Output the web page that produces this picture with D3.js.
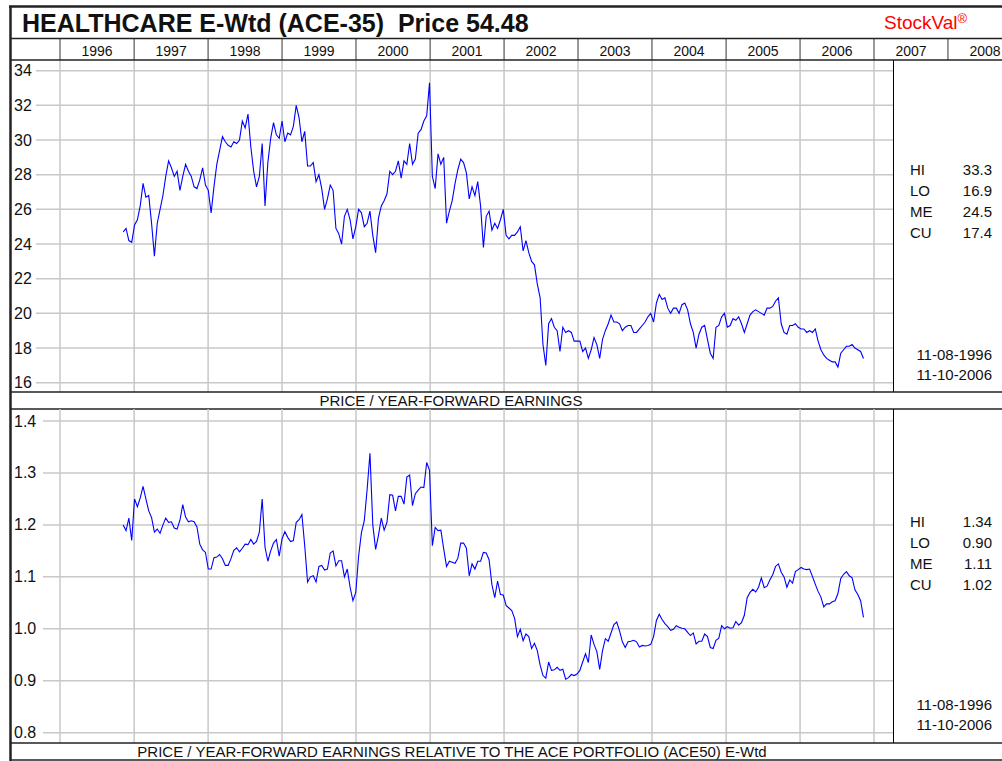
<!DOCTYPE html>
<html>
<head>
<meta charset="utf-8">
<script src="https://cdn.jsdelivr.net/npm/d3@7"></script>
<style>
body{margin:0;background:#fff;}
svg text{font-family:"Liberation Sans",Arial,sans-serif;fill:#111;}
</style>
</head>
<body>
<svg id="chart" width="1002" height="761"></svg>
<script>
// chart data (two-week samples)
var startDate = "1996-11-08";
var stepDays = 14;
var years = [1996,1997,1998,1999,2000,2001,2002,2003,2004,2005,2006,2007,2008];
var peTicks = [16,18,20,22,24,26,28,30,32,34];
var relTicks = [0.8,0.9,1.0,1.1,1.2,1.3,1.4];

var peValues = [
 24.7,24.9,24.2,24.1,25.1,25.4,26.2,27.5,26.7,26.8,
 25.2,23.3,25.2,26.0,26.8,27.9,28.8,28.4,27.9,28.2,
 27.1,27.9,28.6,28.2,27.9,27.3,27.2,27.7,28.4,27.4,
 27.1,25.8,27.3,28.6,29.4,30.2,29.9,29.7,29.6,29.9,
 29.8,30.0,31.1,30.7,31.5,29.6,28.2,27.3,27.9,29.8,
 26.2,28.7,30.1,31.0,30.3,30.1,31.1,29.9,30.4,30.3,
 30.8,32.0,31.3,29.9,30.5,28.5,28.5,28.7,27.6,28.0,
 27.2,26.0,26.6,27.4,27.1,24.9,24.6,24.0,25.6,26.0,
 25.4,24.3,25.0,26.0,25.8,25.0,25.2,25.9,24.5,23.5,
 25.5,26.2,26.5,26.9,28.2,28.0,28.2,28.8,27.8,28.8,
 28.6,29.8,28.6,28.9,30.4,30.6,31.1,31.4,33.3,27.9,
 27.2,29.2,28.6,29.0,25.2,25.9,26.5,27.5,28.3,28.9,
 28.7,28.1,26.6,27.3,26.8,27.6,26.2,23.8,25.6,25.9,
 24.8,25.2,24.9,25.4,26.0,24.5,24.3,24.5,24.5,24.7,
 25.0,23.6,24.2,23.5,23.0,22.8,21.7,20.9,18.2,17.0,
 19.4,19.7,19.2,19.0,17.8,19.2,18.9,19.0,18.9,18.4,
 18.4,18.4,17.8,18.0,17.4,17.9,18.6,18.2,17.4,18.5,
 19.0,19.4,19.9,19.5,19.5,19.4,19.0,19.2,19.3,19.3,
 18.9,18.9,19.1,19.3,19.5,19.8,20.0,19.5,20.6,21.1,
 20.8,20.9,20.3,20.0,20.3,20.3,20.0,20.5,20.6,20.2,
 19.4,18.9,18.0,18.8,19.2,19.3,18.5,17.7,17.4,19.2,
 19.3,19.8,20.0,19.2,19.3,19.7,19.6,19.8,19.4,18.9,
 19.4,19.9,20.1,20.2,20.1,20.0,19.9,20.3,20.3,20.4,
 20.7,20.9,19.4,18.9,18.8,19.3,19.3,19.4,19.2,19.1,
 19.1,18.9,19.0,18.9,19.1,18.4,17.9,17.6,17.4,17.3,
 17.2,17.2,16.9,17.7,17.9,18.1,18.1,18.2,18.0,17.9,
 17.8,17.4
];

var relValues = [
 1.200,1.189,1.213,1.170,1.250,1.235,1.252,1.274,1.250,1.227,
 1.214,1.186,1.192,1.184,1.200,1.213,1.205,1.206,1.194,1.192,
 1.209,1.239,1.215,1.206,1.208,1.206,1.196,1.163,1.152,1.147,
 1.115,1.115,1.137,1.138,1.143,1.135,1.122,1.122,1.135,1.151,
 1.156,1.148,1.155,1.163,1.162,1.172,1.163,1.168,1.186,1.250,
 1.157,1.130,1.150,1.165,1.172,1.140,1.173,1.187,1.176,1.168,
 1.170,1.205,1.210,1.220,1.160,1.090,1.100,1.102,1.090,1.120,
 1.122,1.113,1.115,1.146,1.150,1.121,1.131,1.131,1.100,1.115,
 1.080,1.054,1.070,1.140,1.185,1.208,1.268,1.338,1.200,1.153,
 1.180,1.213,1.190,1.205,1.258,1.257,1.227,1.255,1.255,1.240,
 1.292,1.296,1.237,1.260,1.267,1.273,1.272,1.320,1.305,1.160,
 1.195,1.189,1.190,1.154,1.120,1.130,1.128,1.126,1.136,1.165,
 1.165,1.155,1.102,1.125,1.115,1.130,1.130,1.147,1.146,1.133,
 1.085,1.060,1.092,1.066,1.065,1.045,1.040,1.035,1.020,0.985,
 0.999,0.977,0.990,0.985,0.962,0.972,0.958,0.930,0.910,0.905,
 0.936,0.920,0.921,0.926,0.920,0.922,0.903,0.906,0.912,0.910,
 0.913,0.920,0.936,0.952,0.935,0.988,0.970,0.956,0.922,0.958,
 0.981,0.976,0.992,1.008,1.013,0.996,0.975,0.964,0.975,0.976,
 0.978,0.975,0.965,0.968,0.967,0.968,0.970,0.985,1.016,1.028,
 1.018,1.010,1.004,0.997,0.999,1.006,1.003,1.001,1.000,0.993,
 0.987,0.992,0.971,0.976,0.976,0.990,0.985,0.964,0.962,0.978,
 0.982,1.006,1.000,1.004,1.001,1.002,1.014,1.007,1.012,1.026,
 1.060,1.070,1.076,1.071,1.080,1.098,1.079,1.082,1.094,1.104,
 1.120,1.125,1.109,1.100,1.080,1.094,1.088,1.110,1.114,1.118,
 1.115,1.114,1.115,1.101,1.086,1.072,1.061,1.042,1.048,1.048,
 1.052,1.054,1.068,1.097,1.105,1.110,1.102,1.098,1.075,1.066,
 1.054,1.022
];

var peStats = [["HI","33.3"],["LO","16.9"],["ME","24.5"],["CU","17.4"]];
var relStats = [["HI","1.34"],["LO","0.90"],["ME","1.11"],["CU","1.02"]];
var dateRange = ["11-08-1996","11-10-2006"];
var titleText = "HEALTHCARE E-Wtd (ACE-35)  Price 54.48";
var peCaption = "PRICE / YEAR-FORWARD EARNINGS";
var relCaption = "PRICE / YEAR-FORWARD EARNINGS RELATIVE TO THE ACE PORTFOLIO (ACE50) E-Wtd";

var svg = d3.select("#chart");
var W = 1002, H = 761;
var plotRight = 893;
var frame = "#222";

var x = d3.scaleUtc()
    .domain([Date.UTC(1996,0,1), Date.UTC(2007,0,1)])
    .range([60, 874]);

var t0 = d3.utcParse("%Y-%m-%d")(startDate);
function dateAt(i) { return d3.utcDay.offset(t0, i*stepDays); }
function jan1(y) { return new Date(Date.UTC(y,0,1)); }

svg.append("rect").attr("width",W).attr("height",H).attr("fill","#fff");

// title row
svg.append("text")
    .attr("x",22).attr("y",32)
    .style("font-size","25px").style("font-weight","bold").style("white-space","pre")
    .text(titleText);
var brand = svg.append("text")
    .attr("x",884).attr("y",29)
    .style("font-size","19px").style("fill","#f00");
brand.append("tspan").style("fill","#f00").text("StockVal");
brand.append("tspan").attr("dy",-6).style("font-size","13px").style("fill","#f00").text("®");

// year header
years.forEach(function (y) {
    var x0 = x(jan1(y)), x1 = x(jan1(y+1));
    svg.append("line")
        .attr("x1",x0).attr("x2",x0).attr("y1",38).attr("y2",60)
        .attr("stroke","#555").attr("stroke-width",1.2);
    svg.append("text")
        .attr("x",(x0+x1)/2).attr("y",56)
        .attr("text-anchor","middle")
        .style("font-size","14px")
        .text(y);
});

function drawPanel(p) {
    var y = d3.scaleLinear().domain(p.domain).range(p.yRange);
    var g = svg.append("g");

    // horizontal grid + tick labels
    p.ticks.forEach(function (t) {
        g.append("line")
            .attr("x1",p.gridStart).attr("x2",plotRight)
            .attr("y1",y(t)).attr("y2",y(t))
            .attr("stroke","#c8c8c8").attr("stroke-width",1.5);
        g.append("text")
            .attr("x",14).attr("y",y(t)+5.5)
            .style("font-size","16px")
            .text(p.fmt(t));
    });

    // vertical year grid
    years.filter(function (yr) { return yr <= 2007; }).forEach(function (yr) {
        g.append("line")
            .attr("x1",x(jan1(yr))).attr("x2",x(jan1(yr)))
            .attr("y1",p.top).attr("y2",p.bottom)
            .attr("stroke","#c8c8c8").attr("stroke-width",1.5);
    });

    var line = d3.line()
        .x(function (d, i) { return x(dateAt(i)); })
        .y(function (d) { return y(d); });
    g.append("path")
        .datum(p.values)
        .attr("d",line)
        .attr("fill","none")
        .attr("stroke","#0000ff")
        .attr("stroke-width",1.1);

    // side panel
    g.append("line")
        .attr("x1",plotRight+0.5).attr("x2",plotRight+0.5)
        .attr("y1",p.top).attr("y2",p.bottom)
        .attr("stroke","#000").attr("stroke-width",1);
    p.stats.forEach(function (s, i) {
        var ty = p.statsY + i*21 + 5;
        g.append("text").attr("x",910).attr("y",ty).style("font-size","15px").text(s[0]);
        g.append("text").attr("x",992).attr("y",ty).attr("text-anchor","end").style("font-size","15px").text(s[1]);
    });
    dateRange.forEach(function (d, i) {
        g.append("text")
            .attr("x",992).attr("y",p.datesY + i*20 + 5)
            .attr("text-anchor","end")
            .style("font-size","15px")
            .text(d);
    });

    // caption row below
    g.append("line")
        .attr("x1",10).attr("x2",W).attr("y1",p.bottom).attr("y2",p.bottom)
        .attr("stroke",frame).attr("stroke-width",1.5);
    g.append("text")
        .attr("x",p.captionX).attr("y",p.bottom+14)
        .attr("text-anchor","middle")
        .style("font-size","15px")
        .text(p.caption);
    g.append("line")
        .attr("x1",10).attr("x2",W).attr("y1",p.bottom+17).attr("y2",p.bottom+17)
        .attr("stroke",frame).attr("stroke-width",1.5);
}

drawPanel({
    top:60, bottom:392, domain:[16,34], yRange:[382.7,70.7],
    ticks:peTicks, values:peValues, stats:peStats, fmt:d3.format("d"),
    gridStart:36, statsY:170, datesY:355, caption:peCaption, captionX:451
});
drawPanel({
    top:409, bottom:743, domain:[0.8,1.4], yRange:[732.7,421],
    ticks:relTicks, values:relValues, stats:relStats, fmt:d3.format(".1f"),
    gridStart:43, statsY:522, datesY:705, caption:relCaption, captionX:452
});

// outer frame and header rules
svg.append("line").attr("x1",10).attr("x2",W).attr("y1",38.5).attr("y2",38.5)
    .attr("stroke",frame).attr("stroke-width",1.5);
svg.append("line").attr("x1",10).attr("x2",W).attr("y1",60).attr("y2",60)
    .attr("stroke",frame).attr("stroke-width",1.5);
svg.append("line").attr("x1",9).attr("x2",W).attr("y1",6.5).attr("y2",6.5)
    .attr("stroke",frame).attr("stroke-width",2.5);
svg.append("line").attr("x1",10.5).attr("x2",10.5).attr("y1",6).attr("y2",H)
    .attr("stroke",frame).attr("stroke-width",2.5);
</script>
</body>
</html>
